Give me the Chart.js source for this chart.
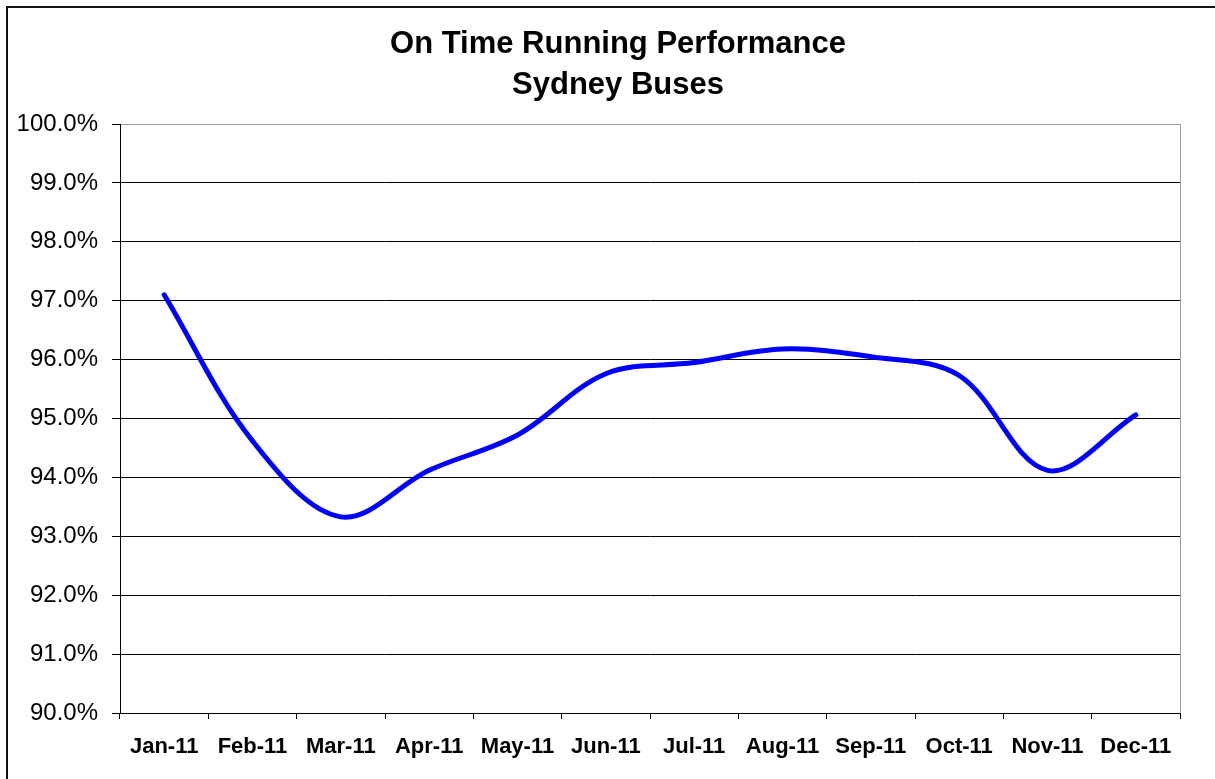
<!DOCTYPE html>
<html>
    <head>
        <script src="https://cdn.jsdelivr.net/npm/chart.js@4.4.0/dist/chart.umd.min.js"></script>
        <style>
            body { margin: 0; background: #fff; }
            #wrap { position: relative; width: 1215px; height: 779px; }
            #frame { position: absolute; left: 6px; top: 6px; width: 1300px; height: 900px;
                     border-top: 2px solid #111; border-left: 2px solid #111; pointer-events: none; }
        </style>
    </head>
    <body>
        <div id="wrap">
            <canvas id="myChart" width="1215" height="779"></canvas>
            <div id="frame"></div>
        </div>
    </body>
    <script type="text/javascript">
        var months = ['Jan-11', 'Feb-11', 'Mar-11', 'Apr-11', 'May-11', 'Jun-11',
                      'Jul-11', 'Aug-11', 'Sep-11', 'Oct-11', 'Nov-11', 'Dec-11'];
        // on time running, percent
        var onTime = [97.1, 94.62, 93.33, 94.12, 94.72, 95.76, 95.95, 96.18, 96.05, 95.73, 94.12, 95.06];
        var titleLines = ['On Time Running Performance', 'Sydney Buses'];
        var yMin = 90, yMax = 100, yStep = 1;

        var fontFamily = "'Liberation Sans', Arial, sans-serif";

        // Excel-style title, centred a bit right of the canvas middle
        var titlePlugin = {
            id: 'excelTitle',
            afterDraw: function (chart) {
                var c = chart.ctx;
                c.save();
                c.fillStyle = '#000';
                c.font = 'bold 31px ' + fontFamily;
                c.textAlign = 'center';
                c.textBaseline = 'middle';
                for (var i = 0; i < titleLines.length; i++) {
                    c.fillText(titleLines[i], 618, 44 + i * 41);
                }
                c.restore();
            }
        };

        var ctx = document.getElementById('myChart').getContext('2d');
        var chart = new Chart(ctx, {
            type: 'line',
            data: {
                labels: months,
                datasets: [{
                    label: 'On Time Running',
                    data: onTime,
                    borderColor: '#0000ff',
                    borderWidth: 5,
                    borderCapStyle: 'round',
                    borderJoinStyle: 'round',
                    pointRadius: 0,
                    tension: 0.35,
                    fill: false
                }]
            },
            plugins: [titlePlugin],
            options: {
                responsive: false,
                animation: false,
                layout: { padding: { left: 0, right: 35, top: 124, bottom: 0 } },
                plugins: {
                    legend: { display: false },
                    tooltip: { enabled: false },
                    title: { display: false }
                },
                scales: {
                    x: {
                        offset: true,
                        afterFit: function (scale) { scale.height = 66; },
                        grid: {
                            offset: true,
                            drawOnChartArea: true,
                            tickLength: 6,
                            tickColor: '#000',
                            color: function (c) { return c.tick ? 'rgba(0,0,0,0)' : '#a0a0a0'; }
                        },
                        border: { color: '#000', width: 1 },
                        ticks: {
                            color: '#000',
                            maxRotation: 0,
                            autoSkip: false,
                            padding: 15,
                            font: { family: fontFamily, size: 22, weight: 'bold' }
                        }
                    },
                    y: {
                        min: yMin,
                        max: yMax,
                        afterFit: function (scale) { scale.width = 120; },
                        grid: {
                            tickLength: 8,
                            tickColor: '#000',
                            color: function (c) { return c.tick && c.tick.value === yMax ? '#a0a0a0' : '#000'; }
                        },
                        border: { color: '#000', width: 1 },
                        ticks: {
                            stepSize: yStep,
                            color: '#000',
                            padding: 14,
                            font: { family: fontFamily, size: 24 },
                            callback: function (v) { return v.toFixed(1) + '%'; }
                        }
                    }
                }
            }
        });
    </script>
</html>
